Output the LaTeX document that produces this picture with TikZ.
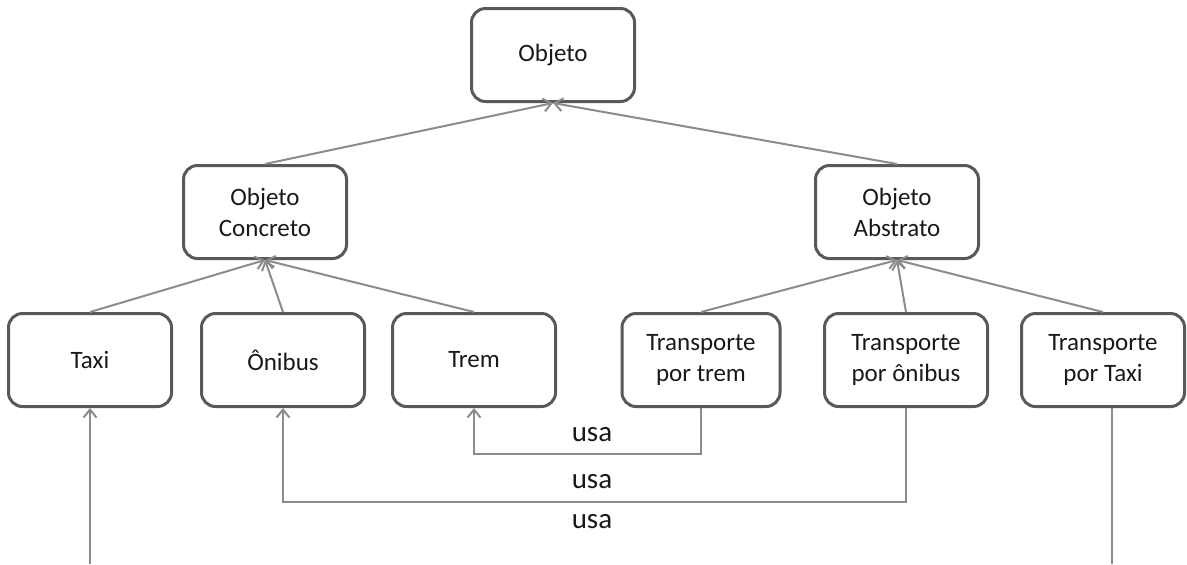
\documentclass[tikz,border=0pt]{standalone}
\usepackage{fontspec}
\setmainfont{Carlito}
\usetikzlibrary{positioning, arrows.meta}
\definecolor{boxline}{HTML}{595959}
\definecolor{conline}{HTML}{8C8C8C}
\begin{document}
\begin{tikzpicture}[x=0.5pt,y=-0.5pt,>={Straight Barb[length=4pt,width=6.5pt]},font=\fontsize{12.5}{15.5}\selectfont]
	
	\tikzstyle{box}=[draw=boxline,line width=1.5pt,rounded corners=7pt,minimum width=81.5pt,minimum height=46.5pt,align=center,text=black!90]
	\tikzstyle{con}=[draw=conline,line width=1pt]
	\tikzstyle{usa}=[font=\fontsize{14.5}{17}\selectfont,text=black!90]
	
	\useasboundingbox (0,0) rectangle (1187,564);
	\coordinate (foot) at (0,564);
	\coordinate (elbow1) at (0,454);
	\coordinate (elbow2) at (0,502);
	
	\node[box] (taxi) at (90,360) {Taxi};
	\node[box,right=13.5pt of taxi] (onibus) {Ônibus};
	\node[box,right=12.5pt of onibus] (trem) {Trem};
	\node[box,right=31.75pt of trem,minimum width=79pt] (ttrem) {Transporte\\por trem};
	\node[box,right=20.75pt of ttrem] (tonibus) {Transporte\\por ônibus};
	\node[box,right=15.5pt of tonibus] (ttaxi) {Transporte\\por Taxi};
	\node[box,above=26pt of onibus,xshift=-9pt] (concreto) {Objeto\\Concreto};
	\node[box,above=26pt of tonibus,xshift=-4.5pt] (abstrato) {Objeto\\Abstrato};
	\node[box,above=30.5pt of concreto,xshift=144pt] (objeto) {Objeto};
	
	\draw[con,->] (concreto.north) -- (objeto.south);
	\draw[con,->] (abstrato.north) -- (objeto.south);
	\draw[con,->] (taxi.north) -- (concreto.south);
	\draw[con,->] (onibus.north) -- (concreto.south);
	\draw[con,->] (trem.north) -- (concreto.south);
	\draw[con,->] (ttrem.north) -- (abstrato.south);
	\draw[con,->] (tonibus.north) -- (abstrato.south);
	\draw[con,->] (ttaxi.north) -- (abstrato.south);
	
	% relacoes "usa"
	\draw[con,->] (ttrem.south) -- (ttrem.south |- elbow1) -| (trem.south);
	\draw[con,->] (tonibus.south) -- (tonibus.south |- elbow2) -| (onibus.south);
	\draw[con,->] (taxi.south |- foot) -- (taxi.south);
	\draw[con] ([xshift=4.5pt]ttaxi.south) -- ([xshift=4.5pt]ttaxi.south |- foot);
	
	\node[usa] (usa1) at (592,435) {usa};
	\node[usa] (usa2) at (592,482) {usa};
	\node[usa] (usa3) at (592,522) {usa};
\end{tikzpicture}
\end{document}
